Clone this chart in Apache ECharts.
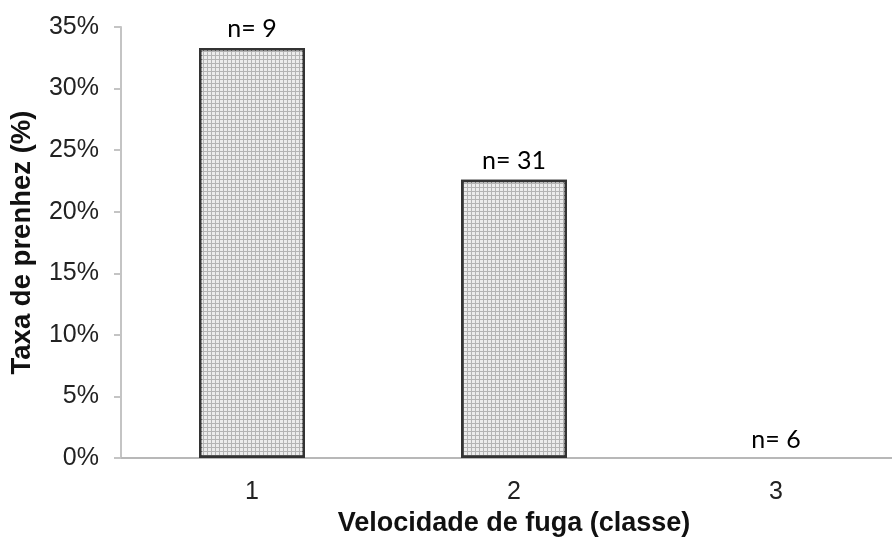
<!DOCTYPE html>
<html>
<head>
<meta charset="utf-8">
<script src="https://cdn.jsdelivr.net/npm/echarts@6/dist/echarts.min.js"></script>
<style>html,body{margin:0;padding:0;background:#fff}#c{width:892px;height:543px}</style>
</head>
<body>
<div id="c"></div>
<script>
var categories = ['1', '2', '3'];
var rates = [33.3, 22.6, 0];
var nLabels = ['n= 9', 'n= 31', 'n= 6'];
var yTicks = [0, 5, 10, 15, 20, 25, 30, 35];

var chart = echarts.init(document.getElementById('c'));
var data = rates.map(function (v, i) {
  return v === 0 ? { value: v, itemStyle: { borderWidth: 0 } } : { value: v };
});
chart.setOption({
  animation: false,
  grid: { left: 121, top: 27, bottom: 85, width: 786, containLabel: false, outerBoundsMode: 'none' },
  xAxis: {
    type: 'category',
    data: categories,
    axisLine: { lineStyle: { color: '#b8b8b8', width: 2 } },
    axisTick: { show: false },
    axisLabel: { margin: 22, fontFamily: 'Liberation Sans', fontSize: 25, color: '#222' },
    name: 'Velocidade de fuga (classe)',
    nameLocation: 'middle',
    nameGap: 52,
    nameTextStyle: { fontFamily: 'Liberation Sans', fontSize: 27, fontWeight: 'bold', color: '#111', verticalAlign: 'top' }
  },
  yAxis: {
    type: 'value',
    min: yTicks[0],
    max: yTicks[yTicks.length - 1],
    interval: 5,
    axisLine: { show: true, lineStyle: { color: '#c4c4c4', width: 2 } },
    axisTick: { show: true, length: 7, lineStyle: { color: '#c4c4c4', width: 2 } },
    splitLine: { show: false },
    axisLabel: { formatter: '{value}%', margin: 22, fontFamily: 'Liberation Sans', fontSize: 25, color: '#222' },
    name: 'Taxa de prenhez (%)',
    nameLocation: 'middle',
    nameGap: 85,
    nameRotate: 90,
    nameTextStyle: { fontFamily: 'Liberation Sans', fontSize: 27.5, fontWeight: 'bold', color: '#111' }
  },
  series: [{
    type: 'bar',
    data: data,
    barWidth: 106,
    itemStyle: {
      color: '#b4b4b4',
      borderColor: '#333',
      borderWidth: 2.5,
      decal: {
        symbol: 'rect',
        symbolSize: 1,
        color: '#ececec',
        dashArrayX: [3, 1],
        dashArrayY: [3, 1],
        rotation: 0
      }
    },
    label: {
      show: true,
      position: 'top',
      distance: 6,
      fontFamily: 'Lato',
      fontSize: 25,
      color: '#000',
      formatter: function (p) { return nLabels[p.dataIndex]; }
    }
  }]
});
</script>
</body>
</html>
